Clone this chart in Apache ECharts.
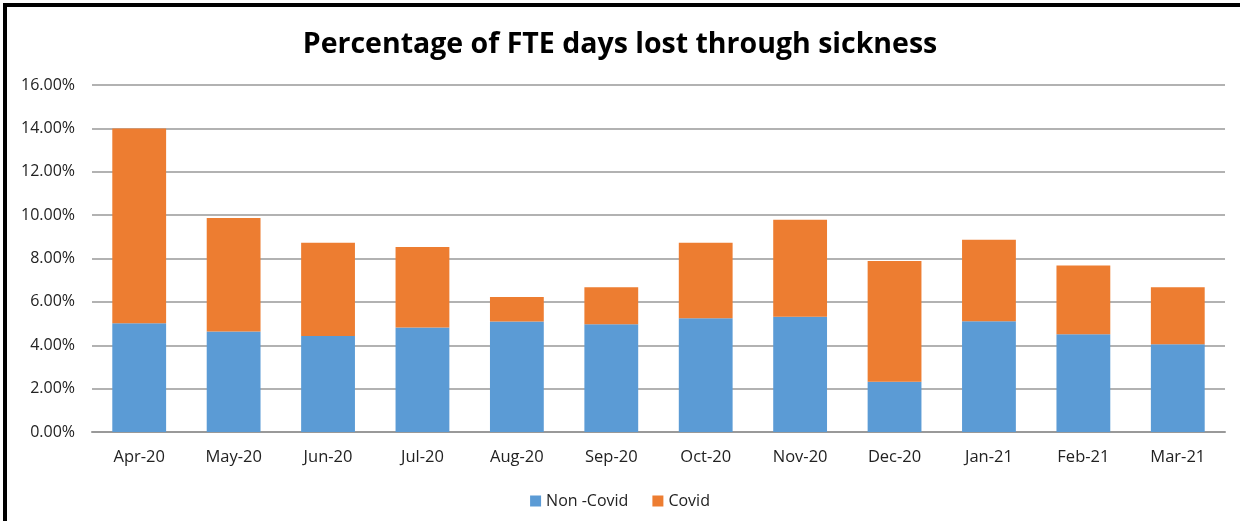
<!DOCTYPE html>
<html>
<head>
<meta charset="utf-8">
<script src="https://cdn.jsdelivr.net/npm/echarts@6/dist/echarts.min.js"></script>
<style>
  html, body { margin: 0; padding: 0; background: #fff; }
  #frame {
    position: absolute; left: 3px; top: 3px; width: 1250px; height: 530px;
    border-left: 4px solid #000; border-top: 4px solid #000; box-sizing: border-box;
  }
  #box1 { position: absolute; left: 0; top: 0; width: 1240px; height: 521px; }
</style>
</head>
<body>
<div id="frame"></div>
<div id="box1"></div>
<script>
var months = ['Apr-20', 'May-20', 'Jun-20', 'Jul-20', 'Aug-20', 'Sep-20',
              'Oct-20', 'Nov-20', 'Dec-20', 'Jan-21', 'Feb-21', 'Mar-21'];
var nonCovid = [5.02, 4.63, 4.43, 4.82, 5.09, 4.97, 5.25, 5.31, 2.32, 5.11, 4.51, 4.05];
var covid    = [8.98, 5.24, 4.30, 3.71, 1.13, 1.71, 3.48, 4.48, 5.56, 3.76, 3.17, 2.63];
var yTicks   = [0, 2, 4, 6, 8, 10, 12, 14, 16];

var myChart1 = echarts.init(document.getElementById('box1'));
var option = {
  backgroundColor: 'transparent',
  animation: false,
  title: {
    text: 'Percentage of FTE days lost through sickness',
    left: 'center',
    top: 25,
    textStyle: {
      fontFamily: 'Open Sans',
      fontWeight: 'bold',
      fontSize: 28.5,
      color: '#000'
    }
  },
  grid: {
    left: 92,
    right: 15,
    top: 85,
    bottom: 89
  },
  legend: {
    data: ['Non -Covid', 'Covid'],
    left: 'center',
    top: 488,
    itemWidth: 11,
    itemHeight: 11,
    itemGap: 24,
    icon: 'rect',
    textStyle: { color: '#222', fontSize: 16, fontFamily: 'Open Sans' }
  },
  xAxis: {
    type: 'category',
    data: months,
    axisLine: { lineStyle: { color: '#999', width: 2 } },
    axisTick: { show: false },
    axisLabel: {
      color: '#222',
      fontSize: 16.5,
      fontFamily: 'Open Sans',
      margin: 17
    }
  },
  yAxis: {
    type: 'value',
    min: yTicks[0],
    max: yTicks[yTicks.length - 1],
    interval: 2,
    axisLine: { show: false },
    axisTick: { show: false },
    splitLine: { lineStyle: { color: '#999', width: 1.5 } },
    axisLabel: {
      color: '#222',
      fontSize: 16,
      fontFamily: 'Open Sans',
      margin: 17,
      formatter: function (v) { return v.toFixed(2) + '%'; }
    }
  },
  series: [
    {
      name: 'Non -Covid',
      type: 'bar',
      stack: 'total',
      barWidth: '57%',
      itemStyle: { color: '#5b9bd5' },
      data: nonCovid
    },
    {
      name: 'Covid',
      type: 'bar',
      stack: 'total',
      barWidth: '57%',
      itemStyle: { color: '#ed7d31' },
      data: covid
    }
  ]
};
myChart1.setOption(option);
</script>
</body>
</html>
